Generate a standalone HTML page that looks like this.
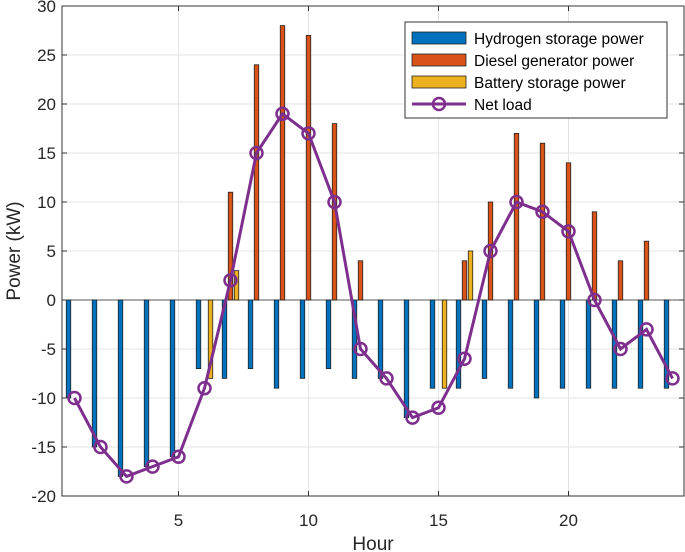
<!DOCTYPE html>
<html><head><meta charset="utf-8"><style>
body{margin:0;background:#fff}
svg{display:block;font-family:"Liberation Sans",Arial,sans-serif}
</style></head><body>
<svg id="c" width="685" height="552"></svg>
<script>
const hours=[1,2,3,4,5,6,7,8,9,10,11,12,13,14,15,16,17,18,19,20,21,22,23,24];
const hydrogen=[-10,-15,-18,-17,-16,-7,-8,-7,-9,-8,-7,-8,-8,-12,-9,-9,-8,-9,-10,-9,-9,-9,-9,-9];
const diesel=[0,0,0,0,0,0,11,24,28,27,18,4,0,0,0,4,10,17,16,14,9,4,6,0];
const battery=[0,0,0,0,0,-8,3,0,0,0,0,0,0,0,-9,5,0,0,0,0,0,0,0,0];
const netLoad=[-10,-15,-18,-17,-16,-9,2,15,19,17,10,-5,-8,-12,-11,-6,5,10,9,7,0,-5,-3,-8];
const yTicks=[-20,-15,-10,-5,0,5,10,15,20,25,30];
const xTicks=[5,10,15,20];

const L=62,R=684,T=6,B=496;
const X=h=>178.5+(h-5)*26.0;
const Y=v=>300-v*9.8;
const NS='http://www.w3.org/2000/svg';
const svg=document.getElementById('c');
function mk(t,a,p){const e=document.createElementNS(NS,t);for(const k in a)e.setAttribute(k,a[k]);(p||svg).appendChild(e);return e;}

// grid
yTicks.forEach(v=>{const l=mk('line',{x1:L,x2:R,y1:Y(v),y2:Y(v),stroke:'#e3e3e3','stroke-width':1});

});
xTicks.forEach(v=>{const l=mk('line',{x1:X(v),x2:X(v),y1:T,y2:B,stroke:'#e3e3e3','stroke-width':1});

});
mk('line',{x1:L,x2:R,y1:Y(0),y2:Y(0),stroke:'#555','stroke-width':1});

// bars
const bw=4.5;
function bars(arr,off,col,name){arr.forEach((v,i)=>{if(v===0)return;
const y0=Y(Math.max(v,0)),h=Math.abs(Y(v)-Y(0));
const r=mk('rect',{x:X(hours[i])+off-bw/2,y:y0,width:bw,height:h,fill:col,stroke:'#222','stroke-width':0.8});

});}
bars(hydrogen,-6,'#0072bd','hydrogen-bar');
bars(diesel,0,'#d95319','diesel-bar');
bars(battery,6,'#edb120','battery-bar');

// net load
const pts=netLoad.map((v,i)=>X(hours[i])+','+Y(v)).join(' ');
const pl=mk('polyline',{points:pts,fill:'none',stroke:'#7e2f8e','stroke-width':3});


netLoad.forEach((v,i)=>{const c=mk('circle',{cx:X(hours[i]),cy:Y(v),r:6,fill:'none',stroke:'#7e2f8e','stroke-width':2.5});

});

// axes box
mk('rect',{x:L,y:T,width:R-L,height:B-T,fill:'none',stroke:'#333','stroke-width':1});
yTicks.forEach(v=>{mk('line',{x1:L,x2:L+5,y1:Y(v),y2:Y(v),stroke:'#333'});mk('line',{x1:R,x2:R-5,y1:Y(v),y2:Y(v),stroke:'#333'});
const t=mk('text',{x:L-6,y:Y(v)+6,'text-anchor':'end','font-size':17,fill:'#262626'});t.textContent=v;

});
xTicks.forEach(v=>{mk('line',{x1:X(v),x2:X(v),y1:B,y2:B-5,stroke:'#333'});mk('line',{x1:X(v),x2:X(v),y1:T,y2:T+5,stroke:'#333'});
const t=mk('text',{x:X(v),y:B+30,'text-anchor':'middle','font-size':17,fill:'#262626'});t.textContent=v;

});
const xt=mk('text',{x:373,y:550,'text-anchor':'middle','font-size':19,fill:'#262626'});xt.textContent='Hour';


const yt=mk('text',{x:0,y:0,'text-anchor':'middle','font-size':19,fill:'#262626',transform:'translate(20,251) rotate(-90)'});yt.textContent='Power (kW)';



// legend
const lg=mk('g',{});


mk('rect',{x:405,y:22,width:262,height:96,fill:'#fff',stroke:'#333','stroke-width':1},lg);
const items=[['Hydrogen storage power','#0072bd'],['Diesel generator power','#d95319'],['Battery storage power','#edb120'],['Net load',null]];
items.forEach((it,i)=>{const cy=38+i*22;
if(it[1]){mk('rect',{x:412,y:cy-6,width:54,height:12,fill:it[1],stroke:'#222','stroke-width':0.8},lg);}
else{mk('line',{x1:412,x2:466,y1:cy,y2:cy,stroke:'#7e2f8e','stroke-width':3},lg);mk('circle',{cx:439,cy:cy,r:6,fill:'none',stroke:'#7e2f8e','stroke-width':2.5},lg);}
const t=mk('text',{x:474,y:cy+6,'font-size':15.5,fill:'#000'},lg);t.textContent=it[0];

});
</script>
</body></html>
